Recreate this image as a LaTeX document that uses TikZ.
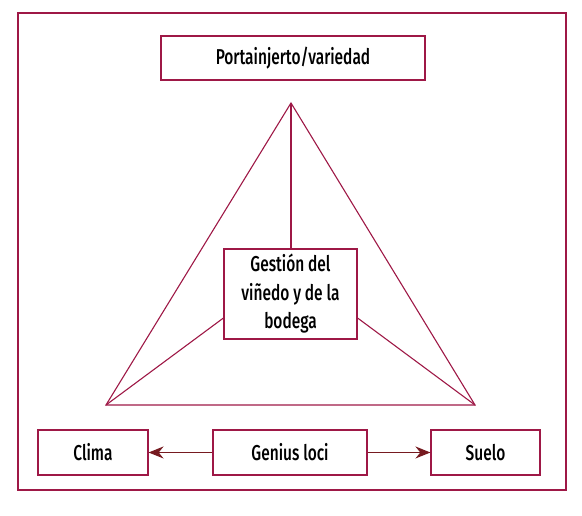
\documentclass[tikz,border=0pt]{standalone}
\usepackage{fontspec}
\setmainfont[FakeStretch=0.72]{Fira Sans Medium}
\usepackage{tikz}
\usetikzlibrary{positioning,arrows.meta,calc}
\definecolor{wine}{RGB}{158,24,70}
\definecolor{darkwine}{RGB}{118,26,32}

\begin{document}
\begin{tikzpicture}[x=1pt, y=1pt, >={Stealth[width=12pt,length=15pt]}, box/.style={draw=wine, line width=1.1pt, align=center, font=\fontsize{21.5}{28.5}\selectfont, inner sep=0pt}, edge/.style={draw=wine, line width=1.1pt}, link/.style={draw=darkwine, line width=1.3pt}]
\useasboundingbox (0,0) rectangle (582,516);
\draw[edge] (18,26) rectangle (566,503);
\draw (293.0pt, 458.0pt)node[box, minimum width=264pt, minimum height=44pt](top){Portainjerto/variedad};
\draw (290.5pt, 222.0pt)node[box, minimum width=133pt, minimum height=90pt](mid){Gesti\'on del\\vi\~nedo y de la\\bodega};
\draw (93.0pt, 63.5pt)node[box, minimum width=110pt, minimum height=45pt](clima){Clima};
\draw (290.0pt, 63.5pt)node[box, minimum width=154pt, minimum height=45pt](genius){Genius loci};
\draw (485.5pt, 63.5pt)node[box, minimum width=109pt, minimum height=45pt](suelo){Suelo};
\coordinate (apex) at (291.0pt, 413.0pt);
\coordinate (left) at (106.0pt, 111.0pt);
\coordinate (right) at (475.0pt, 111.0pt);
\draw[edge, line join=miter] (apex) -- (left) -- (right) -- cycle;
\path[edge] (apex) -- (apex |- mid.north);
\path[edge] (left) -- ([yshift=-24pt]mid.west);
\path[edge] (right) -- ([yshift=-24pt]mid.east);
\path[link, ->] (genius) -- (clima);
\path[link, ->] (genius) -- (suelo);
\end{tikzpicture}
\end{document}
